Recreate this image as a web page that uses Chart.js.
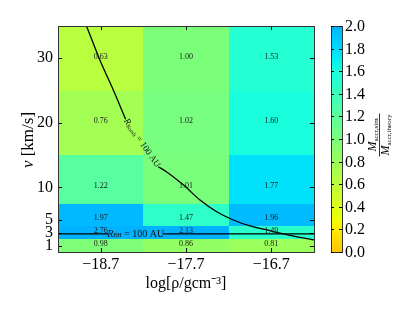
<!DOCTYPE html>
<html>
<head>
<meta charset="utf-8">
<script src="https://cdn.jsdelivr.net/npm/chart.js@4.4.0/dist/chart.umd.min.js"></script>
<style>html,body{margin:0;padding:0;background:#fff}</style>
</head>
<body>
<canvas id="chart" width="415" height="312"></canvas>
<script>
// columns: log density, rows: velocity (km/s)
const rhoCenters = [-18.7, -17.7, -16.7];
const rhoEdges = [-19.2, -18.2, -17.2, -16.2];
const velCenters = [1, 3, 5, 10, 20, 30];
const velEdges = [0, 2, 4, 7.5, 15, 25, 35];

// Mdot_sim / Mdot_theory, one array per density column (v = 1,3,5,10,20,30)
const ratioRho187 = [0.98, 2.76, 1.97, 1.22, 0.76, 0.63];
const ratioRho177 = [0.86, 2.13, 1.47, 1.01, 1.02, 1.00];
const ratioRho167 = [0.81, 1.49, 1.96, 1.77, 1.60, 1.53];
const ratios = [ratioRho187, ratioRho177, ratioRho167];

// R_Bondi = 100 AU curve (split around its label)
const bondiUpperX = [-18.866, -18.708, -18.552, -18.407];
const bondiUpperV = [35, 29.7, 25.1, 20.55];
const bondiLowerX = [-18.025, -17.926, -17.732, -17.536, -17.34, -17.146, -16.95, -16.754, -16.56, -16.364, -16.19];
const bondiLowerV = [13.2, 12.4, 10.4, 8.05, 6.24, 4.96, 4.03, 3.41, 2.79, 2.27, 1.86];

// R_BH = 100 AU horizontal line (split around its label)
const bhV = 2.8;
const bhLeftX = [-19.2, -18.61];
const bhRightX = [-17.97, -16.2];

const cbarTicks = ['0.0', '0.2', '0.4', '0.6', '0.8', '1.0', '1.2', '1.4', '1.6', '1.8', '2.0'];
const cbarMin = 0, cbarMax = 2;

const FONT = '"Liberation Serif", "Times New Roman", serif';

// matplotlib jet, used over 0.7 -> 0.3
function seg(t, pts) {
  for (let i = 1; i < pts.length; i++) {
    if (t <= pts[i][0]) {
      const [t0, v0] = pts[i - 1], [t1, v1] = pts[i];
      return v0 + (v1 - v0) * (t - t0) / (t1 - t0);
    }
  }
  return pts[pts.length - 1][1];
}
function jet(t) {
  const r = seg(t, [[0, 0], [0.35, 0], [0.66, 1], [0.89, 1], [1, 0.5]]);
  const g = seg(t, [[0, 0], [0.125, 0], [0.375, 1], [0.64, 1], [0.91, 0], [1, 0]]);
  const b = seg(t, [[0, 0.5], [0.11, 1], [0.34, 1], [0.65, 0], [1, 0]]);
  const c = v => Math.round(Math.max(0, Math.min(1, v)) * 255);
  return 'rgb(' + c(r) + ',' + c(g) + ',' + c(b) + ')';
}
function cmap(val) {
  const f = (Math.max(cbarMin, Math.min(cbarMax, val)) - cbarMin) / (cbarMax - cbarMin);
  return jet(0.7 - 0.4 * f);
}

function minusFmt(v) {
  return String(v).replace('-', '\u2212');
}

// draws pieces of text one after another, pieces: [text, font, dy]
function drawRich(ctx, pieces, x, y, align) {
  let w = 0;
  pieces.forEach(p => { ctx.font = p[1]; w += ctx.measureText(p[0]).width; });
  let cx = align === 'center' ? x - w / 2 : (align === 'right' ? x - w : x);
  pieces.forEach(p => {
    ctx.font = p[1];
    ctx.fillText(p[0], cx, y + (p[2] || 0));
    cx += ctx.measureText(p[0]).width;
  });
  return w;
}

const heatmap = {
  id: 'heatmap',
  beforeDatasetsDraw(chart) {
    const {ctx, chartArea: a, scales: {x, y}} = chart;
    ctx.save();
    ctx.beginPath();
    ctx.rect(a.left, a.top, a.width, a.height);
    ctx.clip();
    rhoCenters.forEach((rc, i) => {
      const x0 = Math.round(x.getPixelForValue(rhoEdges[i]));
      const x1 = Math.round(x.getPixelForValue(rhoEdges[i + 1]));
      velCenters.forEach((vc, j) => {
        const y0 = Math.round(y.getPixelForValue(velEdges[j]));
        const y1 = Math.round(y.getPixelForValue(velEdges[j + 1]));
        ctx.fillStyle = cmap(ratios[i][j]);
        ctx.fillRect(x0, y1, x1 - x0, y0 - y1);
      });
    });
    ctx.fillStyle = '#1a1a1a';
    ctx.font = '8px ' + FONT;
    ctx.textAlign = 'center';
    ctx.textBaseline = 'middle';
    rhoCenters.forEach((rc, i) => {
      velCenters.forEach((vc, j) => {
        ctx.fillText(ratios[i][j].toFixed(2), x.getPixelForValue(rc), y.getPixelForValue(vc) - 1.5);
      });
    });
    ctx.restore();
  },
  afterDraw(chart) {
    const {ctx, chartArea: a, scales: {x, y}} = chart;
    ctx.save();
    // inner tick marks on all four sides
    ctx.strokeStyle = '#000';
    ctx.lineWidth = 1;
    ctx.beginPath();
    rhoCenters.forEach(v => {
      const px = Math.round(x.getPixelForValue(v)) + 0.5;
      ctx.moveTo(px, a.bottom); ctx.lineTo(px, a.bottom - 4);
      ctx.moveTo(px, a.top); ctx.lineTo(px, a.top + 4);
    });
    velCenters.forEach(v => {
      const py = Math.round(y.getPixelForValue(v)) + 0.5;
      ctx.moveTo(a.left, py); ctx.lineTo(a.left + 4, py);
      ctx.moveTo(a.right, py); ctx.lineTo(a.right - 4, py);
    });
    ctx.stroke();
    // frame
    ctx.strokeStyle = '#333';
    ctx.strokeRect(Math.round(a.left) + 0.5, Math.round(a.top) + 0.5, Math.round(a.width), Math.round(a.height));

    // y title
    ctx.fillStyle = '#000';
    ctx.textBaseline = 'middle';
    ctx.save();
    ctx.translate(29, (a.top + a.bottom) / 2 + 1);
    ctx.rotate(-Math.PI / 2);
    drawRich(ctx, [['v', 'italic 17px ' + FONT], [' [km/s]', '17px ' + FONT]], 0, 0, 'center');
    ctx.restore();

    // R_BH label
    ctx.fillStyle = '#111';
    const bhY = y.getPixelForValue(bhV);
    const bhMid = (x.getPixelForValue(bhLeftX[1]) + x.getPixelForValue(bhRightX[0])) / 2;
    drawRich(ctx, [['R', 'italic 10px ' + FONT], ['BH', '6px ' + FONT, 2], [' = 100 AU', '10px ' + FONT]], bhMid, bhY, 'center');

    // R_Bondi label along the curve
    const p1x = x.getPixelForValue(bondiUpperX[bondiUpperX.length - 1]);
    const p1y = y.getPixelForValue(bondiUpperV[bondiUpperV.length - 1]);
    const p2x = x.getPixelForValue(bondiLowerX[0]);
    const p2y = y.getPixelForValue(bondiLowerV[0]);
    ctx.save();
    ctx.translate((p1x + p2x) / 2, (p1y + p2y) / 2);
    ctx.rotate(Math.atan2(p2y - p1y, p2x - p1x));
    drawRich(ctx, [['R', 'italic 9px ' + FONT], ['Bondi', '5.5px ' + FONT, 2], [' = 100 AU', '9px ' + FONT]], 0, 0, 'center');
    ctx.restore();

    // colour bar
    const cbL = 331, cbR = 342;
    const cbT = a.top, cbB = a.bottom;
    const cbY = v => cbB - (v - cbarMin) / (cbarMax - cbarMin) * (cbB - cbT);
    const grad = ctx.createLinearGradient(0, cbB, 0, cbT);
    for (let k = 0; k <= 40; k++) {
      grad.addColorStop(k / 40, cmap(cbarMin + (cbarMax - cbarMin) * k / 40));
    }
    ctx.fillStyle = grad;
    ctx.fillRect(cbL, cbT, cbR - cbL, cbB - cbT);
    ctx.strokeStyle = '#333';
    ctx.strokeRect(cbL + 0.5, Math.round(cbT) + 0.5, cbR - cbL, Math.round(cbB - cbT));
    ctx.strokeStyle = '#000';
    ctx.beginPath();
    ctx.fillStyle = '#000';
    ctx.font = '16px ' + FONT;
    ctx.textAlign = 'left';
    ctx.textBaseline = 'middle';
    cbarTicks.forEach(t => {
      const py = Math.round(cbY(parseFloat(t))) + 0.5;
      ctx.moveTo(cbR, py); ctx.lineTo(cbR - 3, py);
      ctx.moveTo(cbL, py); ctx.lineTo(cbL + 3, py);
      ctx.fillText(t, 345, py);
    });
    ctx.stroke();

    // colour bar label: fraction, rotated
    ctx.save();
    ctx.translate(379, (cbT + cbB) / 2 - 4);
    ctx.rotate(-Math.PI / 2);
    ctx.textBaseline = 'alphabetic';
    drawRich(ctx, [['M', 'italic 12px ' + FONT], ['accr,sim', '7px ' + FONT, 2]], 0, -3, 'center');
    const w = drawRich(ctx, [['M', 'italic 12px ' + FONT], ['accr,theory', '7px ' + FONT, 2]], 0, 10, 'center');
    ctx.fillRect(-w / 2 - 1, 0, w + 2, 0.8);
    ctx.restore();

    ctx.restore();
  }
};

const lineStyle = {
  showLine: true,
  borderColor: '#000',
  borderWidth: 1.3,
  pointRadius: 0,
  fill: false,
  cubicInterpolationMode: 'monotone'
};

const toPts = (xs, ys) => xs.map((v, i) => ({x: v, y: Array.isArray(ys) ? ys[i] : ys}));

new Chart(document.getElementById('chart'), {
  type: 'scatter',
  data: {
    datasets: [
      Object.assign({data: toPts(bondiUpperX, bondiUpperV)}, lineStyle),
      Object.assign({data: toPts(bondiLowerX, bondiLowerV)}, lineStyle),
      Object.assign({data: toPts(bhLeftX, bhV)}, lineStyle),
      Object.assign({data: toPts(bhRightX, bhV)}, lineStyle)
    ]
  },
  options: {
    responsive: false,
    devicePixelRatio: 1,
    animation: false,
    layout: {padding: {left: 0, top: 26, right: 101, bottom: 15}},
    plugins: {legend: {display: false}, tooltip: {enabled: false}},
    scales: {
      x: {
        type: 'linear',
        min: rhoEdges[0],
        max: rhoEdges[rhoEdges.length - 1],
        afterBuildTicks: ax => { ax.ticks = rhoCenters.map(v => ({value: v})); },
        afterFit: ax => { ax.height = 45; },
        grid: {display: false, drawTicks: false},
        border: {display: false},
        ticks: {
          autoSkip: false, maxRotation: 0, padding: 3, color: '#000',
          font: {family: FONT, size: 16},
          callback: v => minusFmt(v)
        },
        title: {display: true, text: 'log[\u03c1/gcm\u207b\u00b3]', color: '#000', font: {family: FONT, size: 16}, padding: 4}
      },
      y: {
        type: 'linear',
        min: velEdges[0],
        max: velEdges[velEdges.length - 1],
        afterBuildTicks: ax => { ax.ticks = velCenters.map(v => ({value: v})); },
        afterFit: ax => { ax.width = 58; },
        grid: {display: false, drawTicks: false},
        border: {display: false},
        ticks: {
          autoSkip: false, padding: 5, color: '#000',
          font: {family: FONT, size: 16}
        }
      }
    }
  },
  plugins: [heatmap]
});
</script>
</body>
</html>
